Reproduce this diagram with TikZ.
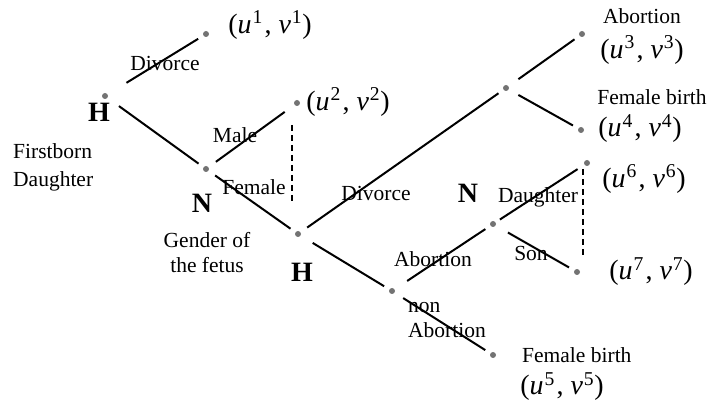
\documentclass[tikz,border=0pt]{standalone}
\usepackage{fontspec}
\setmainfont{Liberation Serif}
\newcommand{\payoff}[1]{(\textit{u}\textsuperscript{\kern1pt#1}\kern1.5pt, \textit{v}\textsuperscript{\kern1pt#1})}
\begin{document}
\begin{tikzpicture}[x=1pt,y=-1pt,
  dot/.style={circle,fill=black!55,inner sep=0pt,minimum size=6pt},
  br/.style={line width=2pt,shorten <=8pt,shorten >=6pt},
  info/.style={line width=1.5pt,dash pattern=on 6pt off 4pt},
  lbl/.style={font=\fontsize{21.5}{25}\selectfont,inner sep=0pt},
  pay/.style={font=\fontsize{28}{30}\selectfont,inner sep=0pt},
  player/.style={font=\fontsize{28}{30}\selectfont\bfseries,inner sep=0pt}]
\useasboundingbox (0,0) rectangle (710,406);

% decision nodes and leaves
\node[dot] (h1) at (105,96) {};
\node[dot] (l1) at (206,34) {};
\node[dot] (n1) at (206,169) {};
\node[dot] (l2) at (297,103) {};
\node[dot] (h2) at (298,234) {};
\node[dot] (m)  at (506,88) {};
\node[dot] (l3) at (582,34) {};
\node[dot] (l4) at (581,130) {};
\node[dot] (a)  at (392,291) {};
\node[dot] (n2) at (493,224) {};
\node[dot] (l6) at (587,163) {};
\node[dot] (l7) at (577,272) {};
\node[dot] (l5) at (493,355) {};

% branches
\draw[br,shorten <=22pt] (h1) -- (l1);
\draw[br,shorten <=14pt] (h1) -- (n1);
\draw[br,shorten <=9pt,shorten >=12pt] (n1) -- (l2);
\draw[br] (n1) -- (h2);
\draw[br] (h2) -- (m);
\draw[br,shorten <=12pt] (m) -- (l3);
\draw[br,shorten <=11pt] (m) -- (l4);
\draw[br,shorten <=14pt] (h2) -- (a);
\draw[br,shorten <=15pt] (a) -- (n2);
\draw[br,shorten <=10pt] (a) -- (l5);
\draw[br,shorten <=5pt,shorten >=8pt] (n2) -- (l6);
\draw[br,shorten <=14pt] (n2) -- (l7);

% information sets
\coordinate (i1a) at (292,125);
\coordinate (i1b) at (292,203);
\coordinate (i2a) at (583,169);
\coordinate (i2b) at (583,257);
\draw[info] (i1a) -- (i1b);
\draw[info] (i2a) -- (i2b);

% players
\node[player] (ph1) at (99,112) {H};
\node[player] (pn1) at (202,203) {N};
\node[player] (ph2) at (302,272) {H};
\node[player] (pn2) at (468,193) {N};

% action labels
\node[lbl] (t1) at (165,63) {Divorce};
\node[lbl,align=left,anchor=west,font=\fontsize{21.5}{28}\selectfont] (t2) at (13,167) {Firstborn\\Daughter};
\node[lbl] (t3) at (235,135) {Male};
\node[lbl] (t4) at (254,187) {Female};
\node[lbl,align=center] (t5) at (207,253) {Gender of\\the fetus};
\node[lbl] (t6) at (376,193) {Divorce};
\node[lbl] (t7) at (538,197) {Daughter};
\node[lbl] (t8) at (531,253) {Son};
\node[lbl] (t9) at (433,259) {Abortion};
\node[lbl,align=left,anchor=west] (t10) at (408,320) {non\\Abortion};
\node[lbl,anchor=west] (t11) at (522,355) {Female birth};
\node[lbl] (t12) at (642,16) {Abortion};
\node[lbl] (t13) at (652,97) {Female birth};

% payoffs
\node[pay] (p1) at (270,25) {\payoff{1}};
\node[pay] (p2) at (348,102) {\payoff{2}};
\node[pay] (p3) at (642,50) {\payoff{3}};
\node[pay] (p4) at (640,129) {\payoff{4}};
\node[pay] (p6) at (644,179) {\payoff{6}};
\node[pay] (p7) at (651,272) {\payoff{7}};
\node[pay] (p5) at (562,387) {\payoff{5}};
\end{tikzpicture}
\end{document}
